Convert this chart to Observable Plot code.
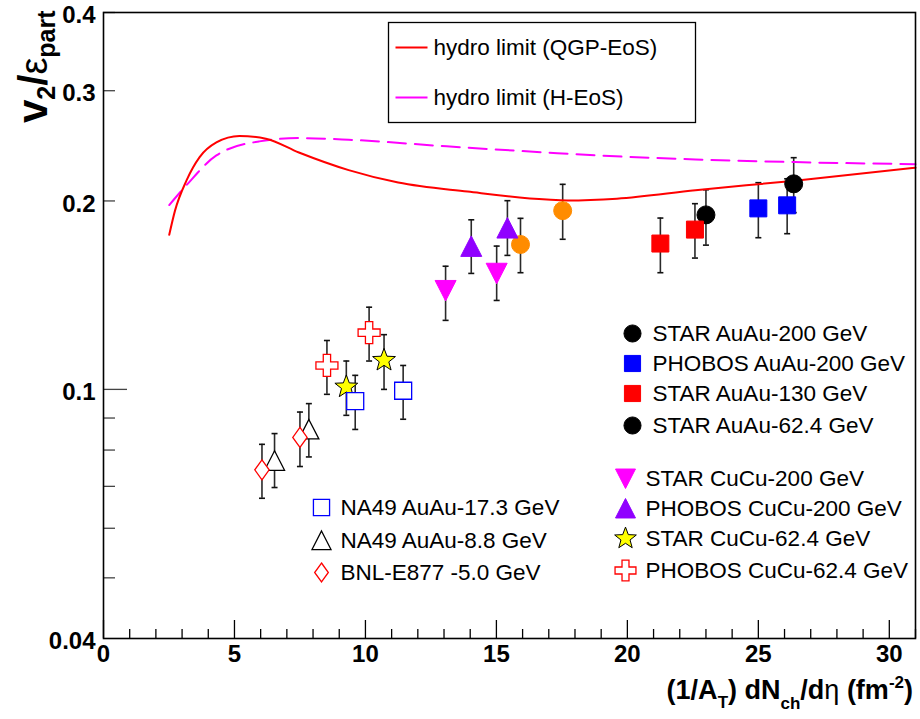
<!DOCTYPE html>
<html><head><meta charset="utf-8">
<script src="https://cdn.jsdelivr.net/npm/d3@7"></script>
<script src="https://cdn.jsdelivr.net/npm/@observablehq/plot@0.6"></script>
<style>body{margin:0;background:#fff}</style>
</head><body><div id="chart"></div>
<script>
// ---------- data ----------
const qgpX = [2.51, 2.73, 3.17, 3.67, 4.31, 5.19, 6.2, 7.46, 9.36, 11.25, 13.9, 16.93, 17.7, 19.6, 22.6, 26.4, 31];
const qgpY = [0.1766, 0.193, 0.2157, 0.235, 0.248, 0.254, 0.2515, 0.239, 0.224, 0.214, 0.207, 0.201, 0.2004, 0.2017, 0.208, 0.2155, 0.226];
const hegX = [2.51, 3.17, 4.31, 5.95, 7.46, 9.36, 13.1, 16.9, 18.8, 22.6, 26.4, 31];
const hegY = [0.197, 0.212, 0.2365, 0.249, 0.252, 0.2505, 0.2445, 0.239, 0.2365, 0.233, 0.2307, 0.229];

const starAu200X = [23.0, 26.35], starAu200Y = [0.190, 0.213], starAu200Lo = [0.170, 0.1916], starAu200Hi = [0.2084, 0.2345];
const phobosAu200X = [25.0, 26.1], phobosAu200Y = [0.1946, 0.1968], phobosAu200Lo = [0.1747, 0.1773], phobosAu200Hi = [0.2139, 0.217];
const starAu130X = [21.26, 22.58], starAu130Y = [0.171, 0.180], starAu130Lo = [0.1536, 0.1621], starAu130Hi = [0.1878, 0.198];
const starAu62X = [15.92, 17.53], starAu62Y = [0.1704, 0.193], starAu62Lo = [0.1536, 0.1737], starAu62Hi = [0.1876, 0.2126];
const starCu200X = [13.06, 15.01], starCu200Y = [0.1439, 0.1533], starCu200Lo = [0.1289, 0.1387], starCu200Hi = [0.1573, 0.1694];
const phobosCu200X = [14.04, 15.42], phobosCu200Y = [0.1692, 0.181], phobosCu200Lo = [0.1532, 0.1637], phobosCu200Hi = [0.1866, 0.2002];
const starCu62X = [9.27, 10.71], starCu62Y = [0.1009, 0.1113], starCu62Lo = [0.0909, 0.1000], starCu62Hi = [0.111, 0.1223];
const phobosCu62X = [8.53, 10.14], phobosCu62Y = [0.1092, 0.1232], phobosCu62Lo = [0.0982, 0.111], phobosCu62Hi = [0.1197, 0.1353];
const na49_17X = [9.61, 11.44], na49_17Y = [0.0958, 0.0995], na49_17Lo = [0.0863, 0.0896], na49_17Hi = [0.1053, 0.1092];
const na49_8X = [6.53, 7.84], na49_8Y = [0.0769, 0.0863], na49_8Lo = [0.0697, 0.078], na49_8Hi = [0.085, 0.0949];
const bnlX = [6.05, 7.5], bnlY = [0.0744, 0.0838], bnlLo = [0.067, 0.0753], bnlHi = [0.0817, 0.092];

const xMajorTicks = [0, 5, 10, 15, 20, 25, 30];
const xMinorTicks = [1,2,3,4,6,7,8,9,11,12,13,14,16,17,18,19,21,22,23,24,26,27,28,29,31];
const yLabelTicks = [0.04, 0.1, 0.2, 0.3, 0.4];
const yDecadeTicks = [0.1];
const yMinorTicks = [0.05, 0.06, 0.07, 0.08, 0.09, 0.2, 0.3, 0.4];

const curveLabels = ["hydro limit (QGP-EoS)", "hydro limit (H-EoS)"];

// ---------- symbols ----------
const S = f => ({draw(ctx, size) { f(ctx, Math.sqrt(size / Math.PI)); }});
const symCircle = S((c, r) => { c.moveTo(r, 0); c.arc(0, 0, r, 0, 2 * Math.PI); });
const symSquare = S((c, r) => { c.rect(-r, -r, 2 * r, 2 * r); });
const symTriUp = S((c, r) => { c.moveTo(0, -r); c.lineTo(r, r * 0.95); c.lineTo(-r, r * 0.95); c.closePath(); });
const symTriDown = S((c, r) => { c.moveTo(0, r); c.lineTo(r, -r * 0.95); c.lineTo(-r, -r * 0.95); c.closePath(); });
const symDiamond = S((c, r) => { c.moveTo(0, -r); c.lineTo(0.72 * r, 0); c.lineTo(0, r); c.lineTo(-0.72 * r, 0); c.closePath(); });
const symStar = S((c, r) => {
  for (let i = 0; i < 10; i++) {
    const a = -Math.PI / 2 + i * Math.PI / 5, rr = i % 2 ? r * 0.42 : r;
    const px = rr * Math.cos(a), py = rr * Math.sin(a);
    if (i) c.lineTo(px, py); else c.moveTo(px, py);
  }
  c.closePath();
});
const symCross = S((c, r) => {
  const a = r / 3;
  c.moveTo(-a, -r); c.lineTo(a, -r); c.lineTo(a, -a); c.lineTo(r, -a); c.lineTo(r, a); c.lineTo(a, a);
  c.lineTo(a, r); c.lineTo(-a, r); c.lineTo(-a, a); c.lineTo(-r, a); c.lineTo(-r, -a); c.lineTo(-a, -a); c.closePath();
});
const symHLine = S((c, r) => { c.moveTo(-r, 0); c.lineTo(r, 0); });

// ---------- series (styles) ----------
const series = [
  {name: "STAR AuAu-200 GeV", x: starAu200X, y: starAu200Y, lo: starAu200Lo, hi: starAu200Hi, symbol: symCircle, r: 9, fill: "black", stroke: "black"},
  {name: "PHOBOS AuAu-200 GeV", x: phobosAu200X, y: phobosAu200Y, lo: phobosAu200Lo, hi: phobosAu200Hi, symbol: symSquare, r: 8.5, fill: "#0000ff", stroke: "#0000ff"},
  {name: "STAR AuAu-130 GeV", x: starAu130X, y: starAu130Y, lo: starAu130Lo, hi: starAu130Hi, symbol: symSquare, r: 8.5, fill: "#ff0000", stroke: "#ff0000"},
  {name: "STAR AuAu-62.4 GeV", x: starAu62X, y: starAu62Y, lo: starAu62Lo, hi: starAu62Hi, symbol: symCircle, r: 9, fill: "#ff8c00", stroke: "#ff8c00", legendFill: "black"},
  {name: "STAR CuCu-200 GeV", x: starCu200X, y: starCu200Y, lo: starCu200Lo, hi: starCu200Hi, symbol: symTriDown, r: 10.5, fill: "#ff00ff", stroke: "#ff00ff"},
  {name: "PHOBOS CuCu-200 GeV", x: phobosCu200X, y: phobosCu200Y, lo: phobosCu200Lo, hi: phobosCu200Hi, symbol: symTriUp, r: 10.5, fill: "#9000ff", stroke: "#9000ff"},
  {name: "STAR CuCu-62.4 GeV", x: starCu62X, y: starCu62Y, lo: starCu62Lo, hi: starCu62Hi, symbol: symStar, r: 12, fill: "#ffff00", stroke: "black", sw: 1},
  {name: "PHOBOS CuCu-62.4 GeV", x: phobosCu62X, y: phobosCu62Y, lo: phobosCu62Lo, hi: phobosCu62Hi, symbol: symCross, r: 11, fill: "white", stroke: "#ff0000", sw: 1.3},
  {name: "NA49 AuAu-17.3 GeV", x: na49_17X, y: na49_17Y, lo: na49_17Lo, hi: na49_17Hi, symbol: symSquare, r: 8.5, fill: "white", stroke: "#0000ff", sw: 1.3},
  {name: "NA49 AuAu-8.8 GeV", x: na49_8X, y: na49_8Y, lo: na49_8Lo, hi: na49_8Hi, symbol: symTriUp, r: 10, fill: "white", stroke: "black", sw: 1.3},
  {name: "BNL-E877 -5.0 GeV", x: bnlX, y: bnlY, lo: bnlLo, hi: bnlHi, symbol: symDiamond, r: 10, fill: "white", stroke: "#ff0000", sw: 1.3}
];
// legend layout (pixel offsets from the frame's top-left corner)
const legendPos = [
  [529, 321, 549], [529, 351, 549], [529, 381, 549], [529, 413, 549],
  [522, 466, 542], [522, 496, 542], [522, 526, 542], [522, 558, 542],
  [218, 495, 237], [218, 528, 237], [218, 560, 237]
];

// ---------- layout ----------
const W = 920, H = 719, mL = 103, mR = 5, mT = 12, mB = 81;
const fw = W - mL - mR, fh = H - mT - mB;
const font = "'Liberation Sans', Arial, Helvetica, sans-serif";

const marks = [];
// error bars
for (const s of series) {
  const rows = s.x.map((x, i) => ({x, y: s.y[i], lo: s.lo[i], hi: s.hi[i]}));
  marks.push(Plot.ruleX(rows, {x: "x", y1: "lo", y2: "hi", stroke: "#2a2a2a", strokeWidth: 1.6}));
  marks.push(Plot.dot(rows, {x: "x", y: "lo", symbol: symHLine, r: 3, fill: "none", stroke: "#111", strokeWidth: 1.6}));
  marks.push(Plot.dot(rows, {x: "x", y: "hi", symbol: symHLine, r: 3, fill: "none", stroke: "#111", strokeWidth: 1.6}));
}
// curves
const qgpRows = qgpX.map((x, i) => ({x, y: qgpY[i]}));
const hegRows = hegX.map((x, i) => ({x, y: hegY[i]}));
marks.push(Plot.line(hegRows, {x: "x", y: "y", curve: "monotone-x", stroke: "#ff00ff", strokeWidth: 2, strokeDasharray: "18,9"}));
marks.push(Plot.line(qgpRows, {x: "x", y: "y", curve: "monotone-x", stroke: "#ff0000", strokeWidth: 2}));
// markers
for (const s of series) {
  const rows = s.x.map((x, i) => ({x, y: s.y[i]}));
  marks.push(Plot.dot(rows, {x: "x", y: "y", symbol: s.symbol, r: s.r, fill: s.fill, stroke: s.stroke, strokeWidth: s.sw ?? 1}));
}
// inner ticks
marks.push(Plot.tickX(xMajorTicks, {x: d => d, insetTop: fh - 18, stroke: "black", strokeWidth: 1.3}));
marks.push(Plot.tickX(xMinorTicks, {x: d => d, insetTop: fh - 9, stroke: "black", strokeWidth: 1.3}));
marks.push(Plot.tickY(yDecadeTicks, {y: d => d, insetRight: fw - 24, stroke: "#444", strokeWidth: 1.3}));
marks.push(Plot.tickY(yMinorTicks, {y: d => d, insetRight: fw - 12, stroke: "#444", strokeWidth: 1.3}));
// axes
marks.push(Plot.axisX(xMajorTicks, {tickSize: 0, tickPadding: 6, fontSize: 24, fontWeight: "bold", tickFormat: d => String(d), label: null}));
marks.push(Plot.axisY(yLabelTicks, {tickSize: 0, tickPadding: 8, dy: 3, fontSize: 24, fontWeight: "bold", tickFormat: d => String(d), label: null}));
marks.push(Plot.frame({stroke: "black", strokeWidth: 1.6}));
// curve legend box
marks.push(Plot.frame({insetLeft: 285, insetTop: 10, insetRight: 220, insetBottom: 516, stroke: "black", strokeWidth: 1.3}));
marks.push(Plot.dot([0], {frameAnchor: "top-left", dx: 308, dy: 35, symbol: symHLine, r: 16, fill: "none", stroke: "#ff0000", strokeWidth: 2}));
marks.push(Plot.dot([0], {frameAnchor: "top-left", dx: 308, dy: 85, symbol: symHLine, r: 16, fill: "none", stroke: "#ff00ff", strokeWidth: 2}));
marks.push(Plot.text([curveLabels[0]], {text: d => d, frameAnchor: "top-left", dx: 330, dy: 35, textAnchor: "start", lineAnchor: "middle", fontSize: 22.5}));
marks.push(Plot.text([curveLabels[1]], {text: d => d, frameAnchor: "top-left", dx: 330, dy: 85, textAnchor: "start", lineAnchor: "middle", fontSize: 22.5}));
// series legend
series.forEach((s, i) => {
  const [mx, my, tx] = legendPos[i];
  marks.push(Plot.dot([0], {frameAnchor: "top-left", dx: mx, dy: my, symbol: s.symbol, r: s.r * 0.95, fill: s.legendFill ?? s.fill, stroke: s.legendFill ?? s.stroke, strokeWidth: s.sw ?? 1}));
  marks.push(Plot.text([s.name], {text: d => d, frameAnchor: "top-left", dx: tx, dy: my, textAnchor: "start", lineAnchor: "middle", fontSize: 22.5}));
});

const chart = Plot.plot({
  width: W, height: H,
  marginLeft: mL, marginRight: mR, marginTop: mT, marginBottom: mB,
  style: {fontFamily: font, background: "white", color: "black"},
  x: {domain: [0, 31]},
  y: {type: "log", domain: [0.04, 0.4]},
  marks
});
document.getElementById("chart").appendChild(chart);

// axis titles with sub/superscripts
const svg = d3.select(chart);
const yt = svg.append("text")
  .attr("transform", "translate(47,123) rotate(-90)")
  .attr("text-anchor", "start")
  .attr("font-family", font).attr("fill", "black");
yt.append("tspan").attr("font-size", 42).attr("font-weight", "bold").text("v");
yt.append("tspan").attr("font-size", 25).attr("font-weight", "bold").attr("dy", 8).text("2");
yt.append("tspan").attr("font-size", 40).attr("font-weight", "bold").attr("dy", -8).text("/");
yt.append("tspan").attr("font-size", 38).attr("font-weight", "normal").text("ε");
yt.append("tspan").attr("font-size", 25).attr("font-weight", "bold").attr("dy", 8).text("part");

const xt = svg.append("text")
  .attr("x", 913).attr("y", 699)
  .attr("text-anchor", "end")
  .attr("font-family", font).attr("font-weight", "bold").attr("font-size", 27).attr("fill", "black");
xt.append("tspan").text("(1/A");
xt.append("tspan").attr("font-size", 17).attr("dy", 9).text("T");
xt.append("tspan").attr("dy", -9).text(") dN");
xt.append("tspan").attr("font-size", 17).attr("dy", 10).text("ch");
xt.append("tspan").attr("dy", -10).text("/d");
xt.append("tspan").attr("font-weight", "normal").text("η");
xt.append("tspan").text(" (fm");
xt.append("tspan").attr("font-size", 17).attr("dy", -11).text("-2");
xt.append("tspan").attr("dy", 11).text(")");
</script>
</body></html>
